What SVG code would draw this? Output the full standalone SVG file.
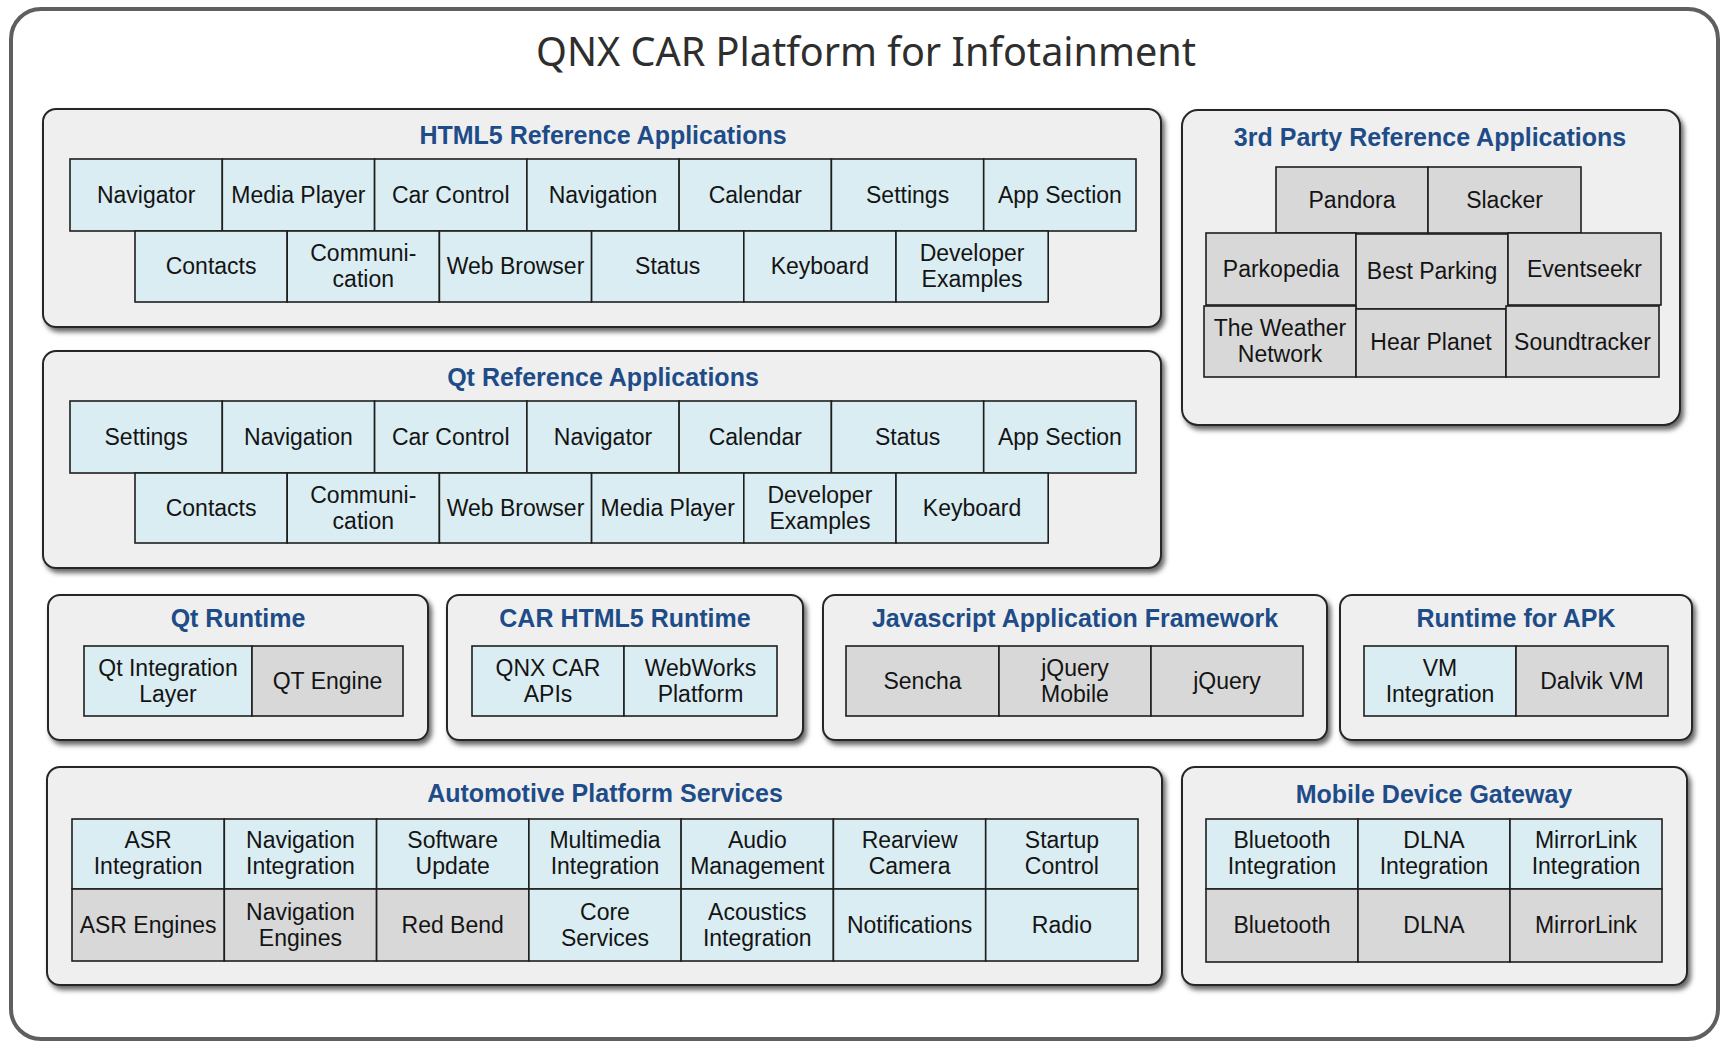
<svg xmlns="http://www.w3.org/2000/svg" width="1725" height="1043" viewBox="0 0 1725 1043">
<defs>
<filter id="sh" x="-5%" y="-5%" width="112%" height="120%">
<feDropShadow dx="3" dy="4" stdDeviation="2.5" flood-color="#000" flood-opacity="0.6"/>
</filter>
<style>
.frame{fill:#fff;stroke:#5f5f5f;stroke-width:4}
.panel{fill:#efefef;stroke:#262626;stroke-width:2;filter:url(#sh)}
.cb{fill:#daedf2;stroke:#1e1e1e;stroke-width:1.6}
.cg{fill:#d8d8d8;stroke:#1e1e1e;stroke-width:1.6}
.t{font-family:"Liberation Sans",Arial,sans-serif;font-weight:bold;font-size:25px;fill:#1d4c88;text-anchor:middle}
.l{font-family:"Liberation Sans",Arial,sans-serif;font-size:23px;fill:#141414;text-anchor:middle}
.main{font-family:"Noto Sans","Open Sans",sans-serif;font-size:40px;fill:#2e2e2e;text-anchor:middle}
</style>
</defs>
<rect class="frame" x="11" y="9" width="1707" height="1030" rx="30"/>
<text class="main" x="866" y="66" textLength="660" lengthAdjust="spacingAndGlyphs">QNX CAR Platform for Infotainment</text>

<g id="html5-ref-apps">
<rect class="panel" x="43" y="109" width="1118" height="218" rx="13"/>
<text class="t" x="603" y="144">HTML5 Reference Applications</text>
<rect class="cb" x="70" y="159" width="152.3" height="72"/><text class="l" x="146.1" y="203">Navigator</text>
<rect class="cb" x="222.3" y="159" width="152.3" height="72"/><text class="l" x="298.4" y="203">Media Player</text>
<rect class="cb" x="374.6" y="159" width="152.3" height="72"/><text class="l" x="450.7" y="203">Car Control</text>
<rect class="cb" x="526.9" y="159" width="152.3" height="72"/><text class="l" x="603" y="203">Navigation</text>
<rect class="cb" x="679.1" y="159" width="152.3" height="72"/><text class="l" x="755.3" y="203">Calendar</text>
<rect class="cb" x="831.4" y="159" width="152.3" height="72"/><text class="l" x="907.6" y="203">Settings</text>
<rect class="cb" x="983.7" y="159" width="152.3" height="72"/><text class="l" x="1059.9" y="203">App Section</text>
<rect class="cb" x="135" y="231" width="152.2" height="71"/><text class="l" x="211.1" y="274">Contacts</text>
<rect class="cb" x="287.2" y="231" width="152.2" height="71"/><text class="l" x="363.3" y="261">Communi-</text><text class="l" x="363.3" y="287">cation</text>
<rect class="cb" x="439.4" y="231" width="152.2" height="71"/><text class="l" x="515.5" y="274">Web Browser</text>
<rect class="cb" x="591.6" y="231" width="152.2" height="71"/><text class="l" x="667.7" y="274">Status</text>
<rect class="cb" x="743.8" y="231" width="152.2" height="71"/><text class="l" x="819.9" y="274">Keyboard</text>
<rect class="cb" x="896" y="231" width="152.2" height="71"/><text class="l" x="972.1" y="261">Developer</text><text class="l" x="972.1" y="287">Examples</text>
</g>

<g id="qt-ref-apps">
<rect class="panel" x="43" y="351" width="1118" height="217" rx="13"/>
<text class="t" x="603" y="386">Qt Reference Applications</text>
<rect class="cb" x="70" y="401" width="152.3" height="72"/><text class="l" x="146.1" y="445">Settings</text>
<rect class="cb" x="222.3" y="401" width="152.3" height="72"/><text class="l" x="298.4" y="445">Navigation</text>
<rect class="cb" x="374.6" y="401" width="152.3" height="72"/><text class="l" x="450.7" y="445">Car Control</text>
<rect class="cb" x="526.9" y="401" width="152.3" height="72"/><text class="l" x="603" y="445">Navigator</text>
<rect class="cb" x="679.1" y="401" width="152.3" height="72"/><text class="l" x="755.3" y="445">Calendar</text>
<rect class="cb" x="831.4" y="401" width="152.3" height="72"/><text class="l" x="907.6" y="445">Status</text>
<rect class="cb" x="983.7" y="401" width="152.3" height="72"/><text class="l" x="1059.9" y="445">App Section</text>
<rect class="cb" x="135" y="473" width="152.2" height="70"/><text class="l" x="211.1" y="516">Contacts</text>
<rect class="cb" x="287.2" y="473" width="152.2" height="70"/><text class="l" x="363.3" y="503">Communi-</text><text class="l" x="363.3" y="529">cation</text>
<rect class="cb" x="439.4" y="473" width="152.2" height="70"/><text class="l" x="515.5" y="516">Web Browser</text>
<rect class="cb" x="591.6" y="473" width="152.2" height="70"/><text class="l" x="667.7" y="516">Media Player</text>
<rect class="cb" x="743.8" y="473" width="152.2" height="70"/><text class="l" x="819.9" y="503">Developer</text><text class="l" x="819.9" y="529">Examples</text>
<rect class="cb" x="896" y="473" width="152.2" height="70"/><text class="l" x="972.1" y="516">Keyboard</text>
</g>

<g id="third-party-apps">
<rect class="panel" x="1182" y="110" width="498" height="315" rx="16"/>
<text class="t" x="1430" y="146">3rd Party Reference Applications</text>
<rect class="cg" x="1276" y="167" width="152" height="66"/><text class="l" x="1352" y="208">Pandora</text>
<rect class="cg" x="1428" y="167" width="153" height="66"/><text class="l" x="1504.5" y="208">Slacker</text>
<rect class="cg" x="1206" y="233" width="150" height="72"/><text class="l" x="1281" y="277">Parkopedia</text>
<rect class="cg" x="1356" y="234" width="152" height="75"/><text class="l" x="1432" y="279">Best Parking</text>
<rect class="cg" x="1508" y="233" width="153" height="72"/><text class="l" x="1584.5" y="277">Eventseekr</text>
<rect class="cg" x="1204" y="306" width="152" height="71"/><text class="l" x="1280" y="336">The Weather</text><text class="l" x="1280" y="362">Network</text>
<rect class="cg" x="1356" y="309" width="150" height="68"/><text class="l" x="1431" y="350">Hear Planet</text>
<rect class="cg" x="1506" y="306" width="153" height="71"/><text class="l" x="1582.5" y="350">Soundtracker</text>
</g>

<g id="qt-runtime">
<rect class="panel" x="48" y="595" width="380" height="145" rx="12"/>
<text class="t" x="238" y="627">Qt Runtime</text>
<rect class="cb" x="84" y="646" width="168" height="70"/><text class="l" x="168" y="676">Qt Integration</text><text class="l" x="168" y="702">Layer</text>
<rect class="cg" x="252" y="646" width="151" height="70"/><text class="l" x="327.5" y="689">QT Engine</text>
</g>

<g id="car-html5-runtime">
<rect class="panel" x="447" y="595" width="356" height="145" rx="12"/>
<text class="t" x="625" y="627">CAR HTML5 Runtime</text>
<rect class="cb" x="472" y="646" width="152" height="70"/><text class="l" x="548" y="676">QNX CAR</text><text class="l" x="548" y="702">APIs</text>
<rect class="cb" x="624" y="646" width="153" height="70"/><text class="l" x="700.5" y="676">WebWorks</text><text class="l" x="700.5" y="702">Platform</text>
</g>

<g id="js-app-framework">
<rect class="panel" x="823" y="595" width="504" height="145" rx="12"/>
<text class="t" x="1075" y="627">Javascript Application Framework</text>
<rect class="cg" x="846" y="646" width="153" height="70"/><text class="l" x="922.5" y="689">Sencha</text>
<rect class="cg" x="999" y="646" width="152" height="70"/><text class="l" x="1075" y="676">jQuery</text><text class="l" x="1075" y="702">Mobile</text>
<rect class="cg" x="1151" y="646" width="152" height="70"/><text class="l" x="1227" y="689">jQuery</text>
</g>

<g id="runtime-apk">
<rect class="panel" x="1340" y="595" width="352" height="145" rx="12"/>
<text class="t" x="1516" y="627">Runtime for APK</text>
<rect class="cb" x="1364" y="646" width="152" height="70"/><text class="l" x="1440" y="676">VM</text><text class="l" x="1440" y="702">Integration</text>
<rect class="cg" x="1516" y="646" width="152" height="70"/><text class="l" x="1592" y="689">Dalvik VM</text>
</g>

<g id="automotive-services">
<rect class="panel" x="47" y="767" width="1115" height="218" rx="13"/>
<text class="t" x="605" y="802">Automotive Platform Services</text>
<rect class="cb" x="72" y="819" width="152.3" height="70"/><text class="l" x="148.1" y="848">ASR</text><text class="l" x="148.1" y="874">Integration</text>
<rect class="cb" x="224.3" y="819" width="152.3" height="70"/><text class="l" x="300.4" y="848">Navigation</text><text class="l" x="300.4" y="874">Integration</text>
<rect class="cb" x="376.6" y="819" width="152.3" height="70"/><text class="l" x="452.7" y="848">Software</text><text class="l" x="452.7" y="874">Update</text>
<rect class="cb" x="528.9" y="819" width="152.3" height="70"/><text class="l" x="605" y="848">Multimedia</text><text class="l" x="605" y="874">Integration</text>
<rect class="cb" x="681.1" y="819" width="152.3" height="70"/><text class="l" x="757.3" y="848">Audio</text><text class="l" x="757.3" y="874">Management</text>
<rect class="cb" x="833.4" y="819" width="152.3" height="70"/><text class="l" x="909.6" y="848">Rearview</text><text class="l" x="909.6" y="874">Camera</text>
<rect class="cb" x="985.7" y="819" width="152.3" height="70"/><text class="l" x="1061.9" y="848">Startup</text><text class="l" x="1061.9" y="874">Control</text>
<rect class="cg" x="72" y="889" width="152.3" height="72"/><text class="l" x="148.1" y="933">ASR Engines</text>
<rect class="cg" x="224.3" y="889" width="152.3" height="72"/><text class="l" x="300.4" y="920">Navigation</text><text class="l" x="300.4" y="946">Engines</text>
<rect class="cg" x="376.6" y="889" width="152.3" height="72"/><text class="l" x="452.7" y="933">Red Bend</text>
<rect class="cb" x="528.9" y="889" width="152.3" height="72"/><text class="l" x="605" y="920">Core</text><text class="l" x="605" y="946">Services</text>
<rect class="cb" x="681.1" y="889" width="152.3" height="72"/><text class="l" x="757.3" y="920">Acoustics</text><text class="l" x="757.3" y="946">Integration</text>
<rect class="cb" x="833.4" y="889" width="152.3" height="72"/><text class="l" x="909.6" y="933">Notifications</text>
<rect class="cb" x="985.7" y="889" width="152.3" height="72"/><text class="l" x="1061.9" y="933">Radio</text>
</g>

<g id="mobile-gateway">
<rect class="panel" x="1182" y="767" width="505" height="218" rx="13"/>
<text class="t" x="1434" y="803">Mobile Device Gateway</text>
<rect class="cb" x="1206" y="819" width="152" height="70"/><text class="l" x="1282" y="848">Bluetooth</text><text class="l" x="1282" y="874">Integration</text>
<rect class="cb" x="1358" y="819" width="152" height="70"/><text class="l" x="1434" y="848">DLNA</text><text class="l" x="1434" y="874">Integration</text>
<rect class="cb" x="1510" y="819" width="152" height="70"/><text class="l" x="1586" y="848">MirrorLink</text><text class="l" x="1586" y="874">Integration</text>
<rect class="cg" x="1206" y="889" width="152" height="73"/><text class="l" x="1282" y="933">Bluetooth</text>
<rect class="cg" x="1358" y="889" width="152" height="73"/><text class="l" x="1434" y="933">DLNA</text>
<rect class="cg" x="1510" y="889" width="152" height="73"/><text class="l" x="1586" y="933">MirrorLink</text>
</g>

<g id="connectors"/>
</svg>
